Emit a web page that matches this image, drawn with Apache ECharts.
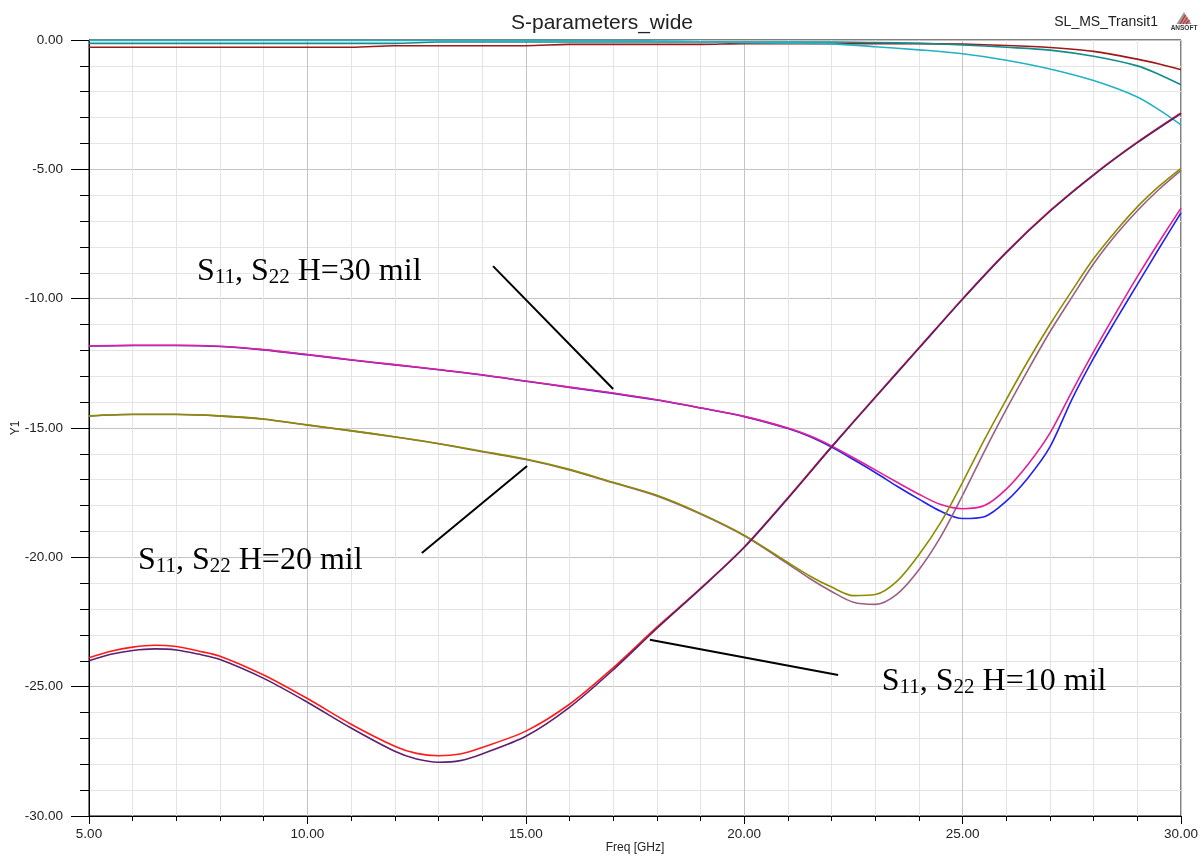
<!DOCTYPE html>
<html><head><meta charset="utf-8">
<script src="https://cdn.jsdelivr.net/npm/echarts@6/dist/echarts.min.js"></script>
<style>html,body{margin:0;padding:0;background:#fff}#c{width:1204px;height:857px}</style>
</head><body><div id="c"></div>
<script>
// ---- data (frequency in GHz, values in dB) ----
const f10 = [5,5.5,6,6.5,7,7.5,8,9,10,11,12,12.5,13,13.5,14,15,16,17,18,19,20,21,22,23,24,25,26,27,28,29,30];
const s11_h10 = [-23.88,-23.63,-23.47,-23.4,-23.45,-23.62,-23.82,-24.55,-25.46,-26.45,-27.3,-27.58,-27.67,-27.6,-27.35,-26.72,-25.68,-24.27,-22.7,-21.2,-19.6,-17.7,-15.72,-13.8,-11.9,-10.0,-8.2,-6.6,-5.2,-3.95,-2.82];
const s22_h10 = [-24.0,-23.75,-23.6,-23.54,-23.58,-23.74,-23.95,-24.68,-25.6,-26.6,-27.5,-27.8,-27.92,-27.86,-27.6,-26.92,-25.8,-24.35,-22.75,-21.22,-19.62,-17.72,-15.74,-13.82,-11.92,-10.02,-8.22,-6.62,-5.22,-3.97,-2.84];

const fMid = [5,6,7,8,9,10,11,12,13,14,15,16,17,18,19,20,21,21.5,22,22.5,23,23.5,24,24.5,25,25.5,26,26.5,27,27.5,28,28.5,29,29.5,30];
const s11_h30 = [-11.82,-11.8,-11.8,-11.84,-11.97,-12.16,-12.36,-12.55,-12.74,-12.94,-13.18,-13.42,-13.65,-13.91,-14.22,-14.55,-15.0,-15.3,-15.69,-16.15,-16.62,-17.1,-17.56,-17.96,-18.12,-18.0,-17.36,-16.4,-15.2,-13.6,-12.05,-10.58,-9.15,-7.8,-6.5];
const s22_h30 = [-11.83,-11.81,-11.81,-11.85,-11.98,-12.17,-12.37,-12.56,-12.75,-12.95,-13.19,-13.43,-13.66,-13.92,-14.23,-14.56,-15.02,-15.33,-15.74,-16.22,-16.72,-17.25,-17.75,-18.22,-18.5,-18.43,-17.83,-16.92,-15.73,-13.9,-12.3,-10.85,-9.45,-8.05,-6.68];
const s11_h20 = [-14.53,-14.47,-14.47,-14.53,-14.65,-14.88,-15.1,-15.34,-15.6,-15.9,-16.2,-16.6,-17.1,-17.6,-18.3,-19.14,-20.2,-20.72,-21.15,-21.48,-21.44,-20.92,-19.9,-18.65,-17.1,-15.45,-13.9,-12.4,-11.0,-9.7,-8.45,-7.4,-6.45,-5.65,-4.96];
const s22_h20 = [-14.54,-14.48,-14.48,-14.54,-14.66,-14.89,-15.11,-15.35,-15.61,-15.92,-16.22,-16.62,-17.12,-17.63,-18.33,-19.17,-20.25,-20.82,-21.32,-21.74,-21.82,-21.42,-20.48,-19.2,-17.6,-15.9,-14.28,-12.75,-11.28,-9.95,-8.65,-7.55,-6.6,-5.77,-5.04];

const f21 = [5,6,7,8,9,10,11,12,13,14,15,16,17,18,19,20,21,22,23,24,25,26,27,28,29,29.5,30];
const s21_a = [-0.02,-0.02,-0.02,-0.02,-0.02,-0.02,-0.02,-0.02,-0.02,-0.02,-0.02,-0.02,-0.02,-0.04,-0.07,-0.1,-0.12,-0.15,-0.26,-0.38,-0.53,-0.78,-1.12,-1.57,-2.2,-2.7,-3.28];
const s21_b = [-0.13,-0.13,-0.13,-0.13,-0.13,-0.13,-0.13,-0.13,-0.08,-0.08,-0.08,-0.08,-0.08,-0.08,-0.08,-0.08,-0.08,-0.08,-0.1,-0.13,-0.19,-0.28,-0.39,-0.63,-1.0,-1.33,-1.73];
const s21_c = [-0.28,-0.28,-0.28,-0.28,-0.28,-0.28,-0.28,-0.22,-0.22,-0.22,-0.22,-0.17,-0.17,-0.17,-0.17,-0.14,-0.14,-0.14,-0.14,-0.14,-0.16,-0.21,-0.29,-0.44,-0.74,-0.93,-1.15];

// annotation pointers (data coordinates)
const ptr30 = [[14.25,-8.74],[17.0,-13.49]];
const ptr20 = [[12.62,-19.83],[15.03,-16.47]];
const ptr10 = [[22.15,-24.55],[17.84,-23.19]];
const labels = [
  {h:'30', at:[7.47,-8.97]},
  {h:'20', at:[6.12,-20.14]},
  {h:'10', at:[23.15,-24.82]}
];

const xTicks = [5,10,15,20,25,30];
const yTicks = [0,-5,-10,-15,-20,-25,-30];

function pairs(xs, ys){ return xs.map((x,i)=>[x, ys[i]]); }

const SANS = 'Liberation Sans, Arial, sans-serif';
const SERIF = 'Liberation Serif, Times New Roman, serif';

function curve(name, xs, ys, color, z){
  return {name, type:'line', data:pairs(xs,ys), showSymbol:false, symbol:'none',
    smooth:0.3, z:z, silent:true,
    lineStyle:{color, width:1.6}, itemStyle:{color}};
}
function pointer(d){
  return {type:'line', data:d, showSymbol:false, symbol:'none', z:20, silent:true,
    lineStyle:{color:'#000', width:2}, itemStyle:{color:'#000'}};
}

const chart = echarts.init(document.getElementById('c'), null, {renderer:'canvas'});
const axisCommon = {
  nameMoveOverlap:false,
  axisLine:{show:true, onZero:false, lineStyle:{color:'#000', width:1}},
  splitLine:{show:true, lineStyle:{color:'#c4c4c4', width:1}},
  minorSplitLine:{show:true, lineStyle:{color:'#e4e4e4', width:1}},
};
chart.setOption({
  animation:false,
  backgroundColor:'#fff',
  title:{text:'S-parameters_wide', left:'center', top:8,
    textStyle:{fontFamily:SANS, fontSize:21, fontWeight:'normal', color:'#222'}},
  grid:{left:89, right:23, top:40, bottom:41, containLabel:false, outerBoundsMode:'none',
    show:true, borderColor:'#000', borderWidth:1, backgroundColor:'transparent'},
  xAxis:Object.assign({type:'value', min:xTicks[0], max:xTicks[xTicks.length-1], interval:5,
    name:'Freq [GHz]', nameLocation:'middle', nameGap:26,
    nameTextStyle:{fontFamily:SANS, fontSize:12, color:'#222'},
    axisTick:{show:true, length:8, lineStyle:{color:'#000'}},
    minorTick:{show:true, splitNumber:5, length:5, lineStyle:{color:'#000'}},
    axisLabel:{margin:11, fontFamily:SANS, fontSize:13.5, color:'#222', formatter:v=>v.toFixed(2)}
  }, axisCommon),
  yAxis:Object.assign({type:'value', min:yTicks[yTicks.length-1], max:yTicks[0], interval:5,
    name:'Y1', nameLocation:'middle', nameGap:67, nameRotate:90,
    nameTextStyle:{fontFamily:SANS, fontSize:12, color:'#222'},
    axisTick:{show:true, length:18, lineStyle:{color:'#000'}},
    minorTick:{show:true, splitNumber:5, length:9, lineStyle:{color:'#000'}},
    axisLabel:{margin:26, fontFamily:SANS, fontSize:13.5, color:'#222', formatter:v=>v.toFixed(2)}
  }, axisCommon),
  series:[
    curve('S21 c', f21, s21_c, '#a01818', 3),
    curve('S21 b', f21, s21_b, '#128c8c', 3),
    curve('S21 a', f21, s21_a, '#22b2c6', 3),
    curve('S22 H30', fMid, s22_h30, '#2222ee', 4),
    curve('S11 H30', fMid, s11_h30, '#e41e96', 5),
    curve('S22 H20', fMid, s22_h20, '#9a6084', 4),
    curve('S11 H20', fMid, s11_h20, '#8c8c00', 5),
    curve('S11 H10', f10, s11_h10, '#ff1a1a', 4),
    curve('S22 H10', f10, s22_h10, '#5e206e', 5),
    pointer(ptr30), pointer(ptr20), pointer(ptr10)
  ]
});

const gfx = [];
labels.forEach(l=>{
  const p = chart.convertToPixel({gridIndex:0}, l.at);
  gfx.push({type:'text', x:p[0], y:p[1], z:30, silent:true, style:{
    text:'{n|S}{s|11}{n|, S}{s|22}{n| H='+l.h+' mil}',
    align:'left', verticalAlign:'middle', fill:'#000',
    rich:{
      n:{fontFamily:SERIF, fontSize:32, lineHeight:32, fill:'#000'},
      s:{fontFamily:SERIF, fontSize:21, lineHeight:16, verticalAlign:'bottom', fill:'#000'}
    }}});
});
gfx.push({type:'text', x:1158, y:22, z:30, silent:true, style:{text:'SL_MS_Transit1', align:'right', verticalAlign:'middle', fontFamily:SANS, fontSize:14, fill:'#222'}});
// small ANSOFT logo
gfx.push({type:'polygon', z:30, silent:true, shape:{points:[[1184,12],[1176.5,24],[1191.5,24]]}, style:{fill:'#9a9a9a'}});
[[1180,24,1185.5,15],[1183,24,1187.5,17.5],[1186,24,1189.5,20]].forEach(s=>{
  gfx.push({type:'line', z:31, silent:true, shape:{x1:s[0],y1:s[1],x2:s[2],y2:s[3]}, style:{stroke:'#e02020', lineWidth:1.2}});
});
gfx.push({type:'text', x:1184, y:28, z:30, silent:true, style:{text:'ANSOFT', align:'center', verticalAlign:'middle', fontFamily:SANS, fontSize:6.5, fontWeight:'bold', fill:'#333'}});
chart.setOption({graphic:gfx});
</script>
</body></html>
